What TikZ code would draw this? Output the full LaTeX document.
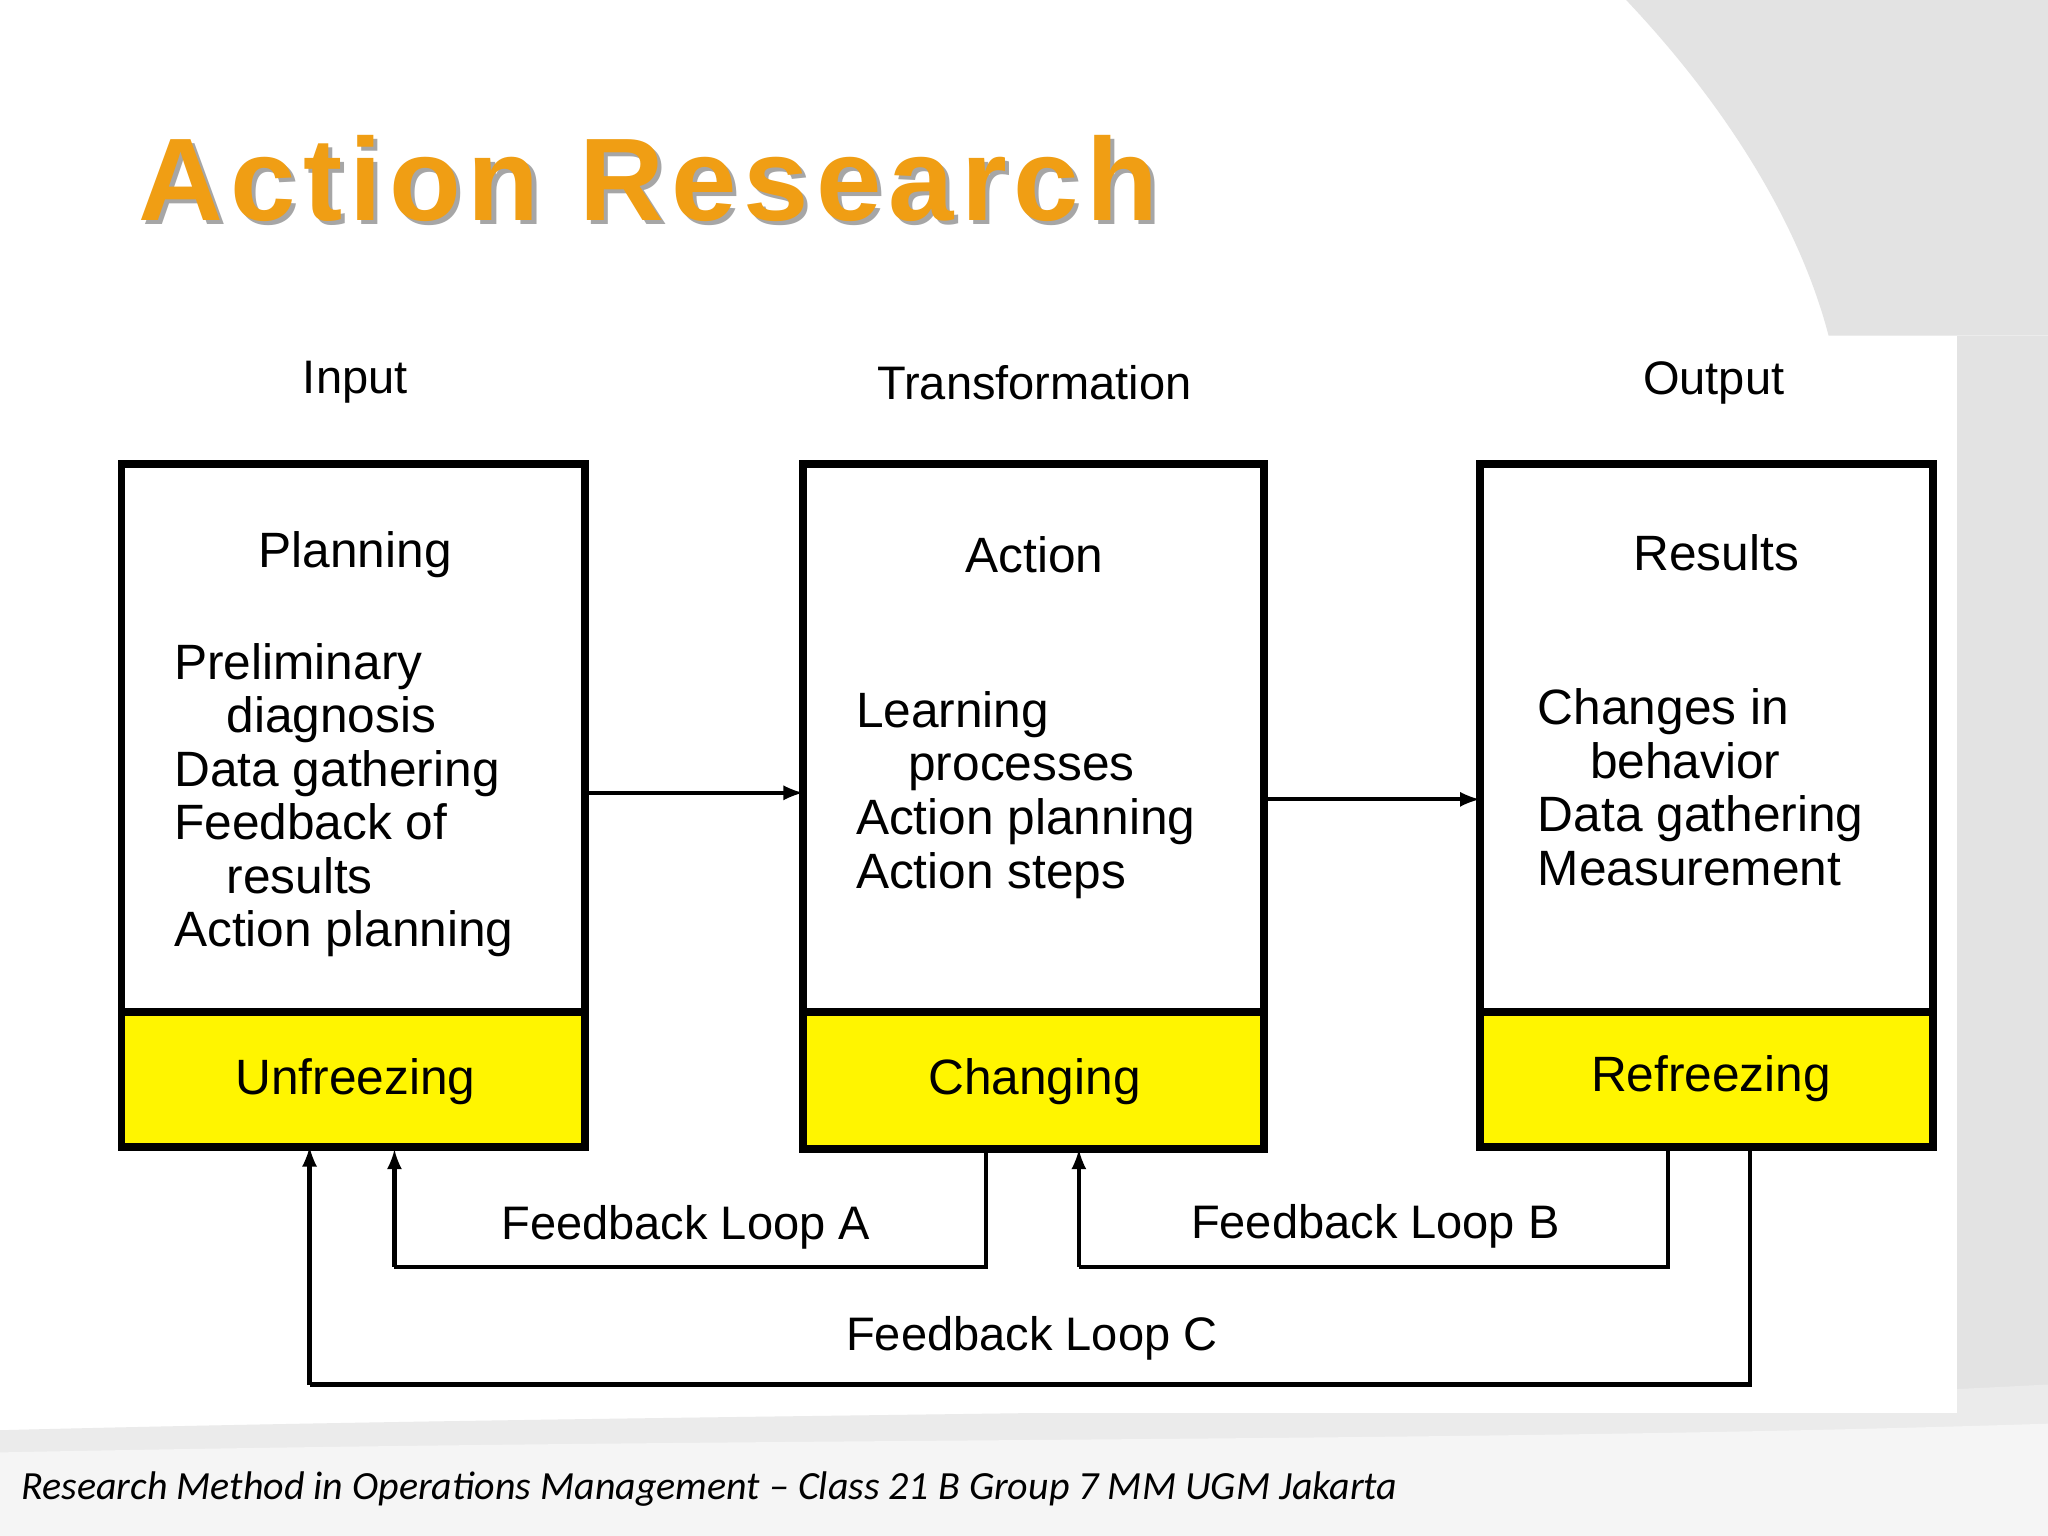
\documentclass[tikz,border=0pt]{standalone}
\usepackage{fontspec}
\setmainfont{Liberation Sans}
\newfontfamily\footfont{Carlito}
\newfontfamily\titlefont[LetterSpace=6]{Liberation Sans}
\definecolor{ttl}{rgb}{0.94,0.62,0.08}
\definecolor{yel}{rgb}{1,0.96,0}
\definecolor{bgg}{rgb}{0.89,0.89,0.89}
\begin{document}
\begin{tikzpicture}[x=0.5pt,y=-0.5pt,
  box/.style={draw=black,line width=3pt},
  txt/.style={font=\fontsize{19}{20.5}\selectfont,inner sep=0pt},
  lbl/.style={font=\fontsize{18}{20}\selectfont,inner sep=2pt},
  conn/.style={line width=1.6pt},
  arr/.style={line width=1.6pt,-latex}]
\useasboundingbox (0,0) rectangle (1568,1176);
\fill[white] (0,0) rectangle (1568,1176);
% background swoosh
\fill[bgg] (1245,0) .. controls (1330,90) and (1380,180) .. (1400,257) -- (1568,257) -- (1568,0) -- cycle;
\fill[bgg] (1498,257) rectangle (1568,1176);
\fill[bgg!70] (0,1095) .. controls (600,1080) and (1100,1085) .. (1568,1060) -- (1568,1176) -- (0,1176) -- cycle;
\fill[white!96!black] (0,1112) .. controls (600,1100) and (1100,1105) .. (1568,1090) -- (1568,1176) -- (0,1176) -- cycle;
\fill[white] (80,257) rectangle (1498,1082);
% title
\node[anchor=west,inner sep=0pt,font=\titlefont\fontsize{45}{45}\bfseries,text=ttl] (title) at (106,138) {\pgfsetfillcolor{black!35}\rlap{\kern1.5pt\raisebox{-1.5pt}{\color{black!35}Action Research}}Action Research};
% headers
\node[lbl] (hin) at (272,293) {Input};
\node[lbl] (htr) at (792,293) {Transformation};
\node[lbl] (hout) at (1312,293) {Output};
% boxes
\fill[yel] (93,775) rectangle (448,878);
\fill[yel] (615,775) rectangle (968,880);
\fill[yel] (1133,775) rectangle (1480,878);
\draw[box] (93,355) rectangle (448,878); \draw[box] (93,775) -- (448,775);
\draw[box] (615,355) rectangle (968,880); \draw[box] (615,775) -- (968,775);
\draw[box] (1133,355) rectangle (1480,878); \draw[box] (1133,775) -- (1480,775);
\coordinate (b1r) at (448,607); \coordinate (b2l) at (615,607);
\coordinate (b2r) at (968,612); \coordinate (b3l) at (1133,612);
\draw[arr] (b1r) -- (b2l);
\draw[arr] (b2r) -- (b3l);
% texts
\node[txt] (p1) at (272,425) {Planning};
\node[txt,anchor=north west,align=left] (p1l) at (133,492) {Preliminary\\\hspace*{20pt}diagnosis\\Data gathering\\Feedback of\\\hspace*{20pt}results\\Action planning};
\node[txt] (p2) at (792,425) {Action};
\node[txt,anchor=north west,align=left] (p2l) at (655,529) {Learning\\\hspace*{20pt}processes\\Action planning\\Action steps};
\node[txt] (p3) at (1314,423) {Results};
\node[txt,anchor=north west,align=left] (p3l) at (1177,527) {Changes in\\\hspace*{20pt}behavior\\Data gathering\\Measurement};
\node[txt] (u1) at (272,828) {Unfreezing};
\node[txt] (u2) at (792,828) {Changing};
\node[txt] (u3) at (1310,826) {Refreezing};
% feedback loops
\coordinate (a0) at (755,880); \coordinate (a1) at (302,880);
\draw[conn] (a0) -- (755,970) -- (302,970); \draw[arr] (302,970) -- (a1);
\coordinate (bb0) at (1277,878); \coordinate (bb1) at (826,880);
\draw[conn] (bb0) -- (1277,970) -- (826,970); \draw[arr] (826,970) -- (bb1);
\coordinate (c0) at (1340,878); \coordinate (c1) at (237,878);
\draw[conn] (c0) -- (1340,1060) -- (237,1060); \draw[arr] (237,1060) -- (c1);
\node[lbl] (la) at (525,940) {Feedback Loop A};
\node[lbl] (lb) at (1053,939) {Feedback Loop B};
\node[lbl] (lc) at (790,1025) {Feedback Loop C};
% footer
\node[anchor=west,inner sep=0pt,font=\footfont\itshape\fontsize{15.3}{16}\selectfont] (foot) at (16,1140) {Research Method in Operations Management – Class 21 B Group 7 MM UGM Jakarta};
\end{tikzpicture}
\end{document}
